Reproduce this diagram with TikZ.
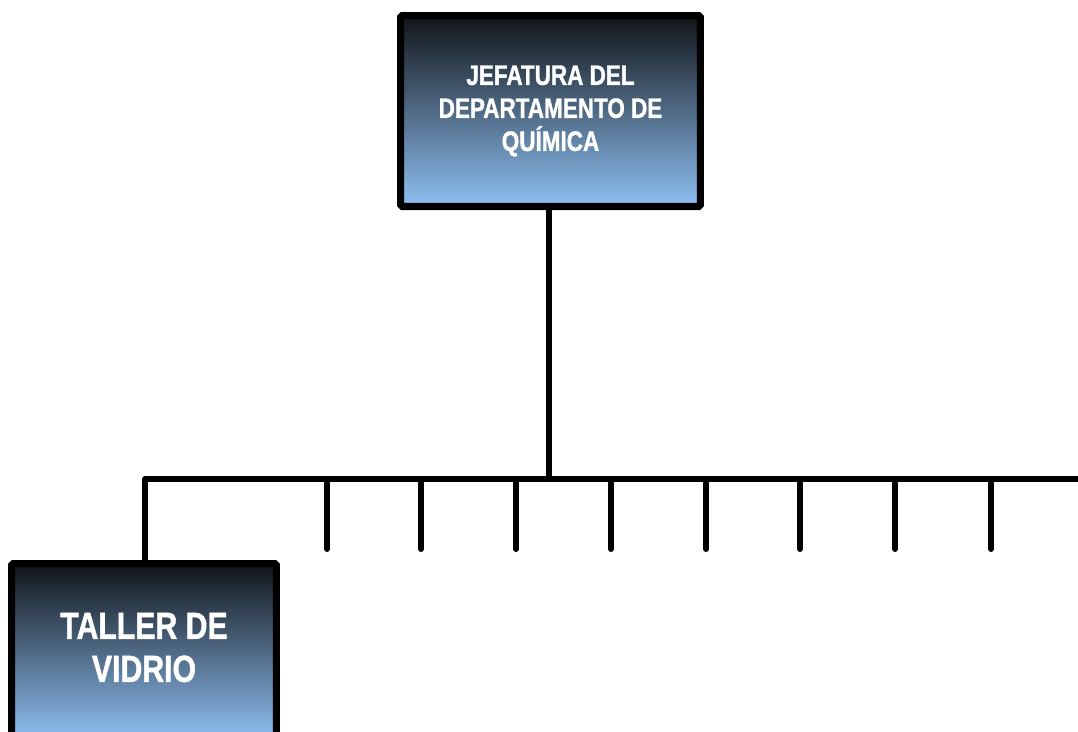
\documentclass[tikz,border=0pt]{standalone}
\usepackage{fontspec}
\usepackage{tikz}
\usepackage{xcolor}
\newfontfamily\orgfont{Liberation Sans}[FakeStretch=0.8, FakeBold=1.2]
\definecolor{boxtop}{HTML}{111418}
\definecolor{boxmid}{HTML}{405670}
\definecolor{boxbottom}{HTML}{8EC0F2}
\begin{document}
\begin{tikzpicture}[x=0.02cm, y=-0.02cm,
    orgbox/.style={draw=black, line width=4pt, rounded corners=1pt, top color=boxtop, middle color=boxmid, bottom color=boxbottom, text=white, align=center, inner sep=0pt, font=\orgfont\bfseries},
    wire/.style={line width=3.4pt, line cap=round}]
                \useasboundingbox (0, 0) rectangle (1078, 731);
                \node[orgbox, minimum width=6cm, minimum height=3.82cm, font=\orgfont\bfseries\fontsize{16}{18.8}\selectfont] (jefe) at (550.5, 111) {JEFATURA DEL\\DEPARTAMENTO DE\\QUÍMICA};
                % box runs past the lower edge of the page
                \node[orgbox, minimum width=5.3cm, minimum height=3.53cm, font=\orgfont\bfseries\fontsize{21.5}{24.5}\selectfont] (taller) at (144, 651.75) {\raisebox{0.095cm}{\begin{tabular}{@{}c@{}}TALLER DE\\VIDRIO\end{tabular}}};
                
                \coordinate (bus) at (549, 479);
                \coordinate (busL) at (145, 479);
                \coordinate (busR) at (1080, 479);
                \draw[wire] (jefe.south -| bus) -- (bus);
                \draw[line width=3.4pt, line cap=butt, line join=round] (busR) -- (busL) -- (busL |- taller.north);
                \foreach \x [count=\i] in {327, 421, 516, 611, 706, 800, 895, 991} {
                    \coordinate (t\i) at (\x, 483);
                    \coordinate (b\i) at (\x, 549);
                    \draw[wire] (t\i) -- (b\i);
                }
            \end{tikzpicture}
\end{document}
